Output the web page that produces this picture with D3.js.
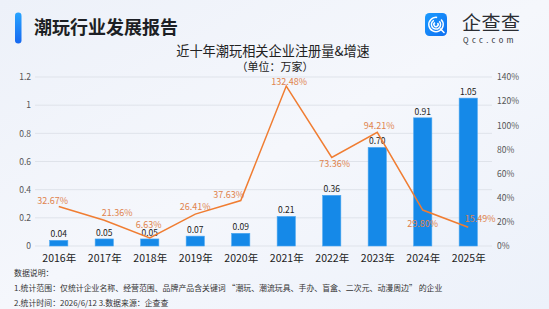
<!DOCTYPE html>
<html>
<head>
<meta charset="utf-8">
<script src="https://cdn.jsdelivr.net/npm/d3@7/dist/d3.min.js"></script>
<style>
  html, body { margin: 0; padding: 0; }
  body { width: 549px; height: 309px; overflow: hidden; }
  text { font-family: "Noto Sans CJK SC", "Noto Sans", sans-serif; }
</style>
</head>
<body>
<div class="chart"></div>
<script>
const years = ["2016年", "2017年", "2018年", "2019年", "2020年", "2021年", "2022年", "2023年", "2024年", "2025年"];
const registrations = [0.04, 0.05, 0.05, 0.07, 0.09, 0.21, 0.36, 0.70, 0.91, 1.05];
const growthRates = [32.67, 21.36, 6.63, 26.41, 37.63, 132.48, 73.36, 94.21, 29.80, 15.49];
const leftTicks = [0, 0.2, 0.4, 0.6, 0.8, 1, 1.2];
const rightTicks = [0, 20, 40, 60, 80, 100, 120, 140];
// label nudges for the growth labels (dx, dy relative to the point)
const rateLabelShift = [[-6, -3], [13, -4], [-1, -10], [0, -4], [-12, -3], [3, -1], [3, 10], [2, -3], [0, 17], [12, -5]];

const width = 549, height = 309;
const x0 = 36, x1 = 491, yTop = 77, yBottom = 246;

const svg = d3.select(".chart").append("svg")
    .attr("width", width)
    .attr("height", height);

const defs = svg.append("defs");
const bg = defs.append("linearGradient").attr("id", "bg")
    .attr("x1", "0").attr("y1", "0").attr("x2", "1").attr("y2", "1");
bg.append("stop").attr("offset", "0").attr("stop-color", "#edf1f9");
bg.append("stop").attr("offset", "0.5").attr("stop-color", "#f5f7fc");
bg.append("stop").attr("offset", "1").attr("stop-color", "#ecf1fa");

const accent = defs.append("linearGradient").attr("id", "accent")
    .attr("x1", "0").attr("y1", "0").attr("x2", "0").attr("y2", "1");
accent.append("stop").attr("offset", "0").attr("stop-color", "#28a4ff");
accent.append("stop").attr("offset", "1").attr("stop-color", "#1668f0");

const logoGrad = defs.append("linearGradient").attr("id", "logoGrad")
    .attr("x1", "0").attr("y1", "0").attr("x2", "1").attr("y2", "1");
logoGrad.append("stop").attr("offset", "0").attr("stop-color", "#1a9bff");
logoGrad.append("stop").attr("offset", "1").attr("stop-color", "#0f6ff0");

svg.append("rect").attr("width", width).attr("height", height).attr("fill", "url(#bg)");

// header
svg.append("rect").attr("x", 15).attr("y", 12.5).attr("width", 6.5).attr("height", 31)
    .attr("rx", 3.2).attr("fill", "url(#accent)");
svg.append("text").attr("x", 34).attr("y", 33.5)
    .attr("font-size", 18).attr("font-weight", "bold").attr("fill", "#1d1f24")
    .text("潮玩行业发展报告");

// logo
const logo = svg.append("g").attr("transform", "translate(425,13)");
logo.append("rect").attr("width", 22).attr("height", 23).attr("rx", 4.5).attr("fill", "url(#logoGrad)");
[7.2, 4.6, 2.1].forEach(function (r, i) {
    logo.append("path")
        .attr("transform", "translate(11,11.5)")
        .attr("d", d3.arc().innerRadius(r - 0.75).outerRadius(r + 0.75)
            .startAngle(Math.PI * 0.25).endAngle(Math.PI * (i === 0 ? 2.05 : 1.85))())
        .attr("fill", "#fff");
});
logo.append("line").attr("x1", 15.5).attr("y1", 16).attr("x2", 19).attr("y2", 19.5)
    .attr("stroke", "#fff").attr("stroke-width", 1.6).attr("stroke-linecap", "round");
svg.append("text").attr("x", 462).attr("y", 30)
    .attr("font-size", 19).attr("fill", "#2a2d33").attr("letter-spacing", 0.5)
    .text("企查查");
svg.append("text").attr("x", 463).attr("y", 42.5)
    .attr("font-size", 7.5).attr("fill", "#2a2d33").attr("letter-spacing", 3.4)
    .attr("font-family", "DejaVu Sans")
    .text("Qcc.com");

// chart title
svg.append("text").attr("x", 273).attr("y", 56).attr("text-anchor", "middle")
    .attr("font-size", 13.2).attr("fill", "#222")
    .text("近十年潮玩相关企业注册量&增速");
svg.append("text").attr("x", 275).attr("y", 71).attr("text-anchor", "middle")
    .attr("font-size", 11).attr("fill", "#222")
    .text("（单位：万家）");

// scales
const x = d3.scaleBand().domain(years).range([x0, x1]).paddingInner(0.6).paddingOuter(0.3);
const xMid = d3.scalePoint().domain(years).range([x0, x1]).padding(0.5);
const yLeft = d3.scaleLinear().domain([0, 1.2]).range([yBottom, yTop]);
const yRight = d3.scaleLinear().domain([0, 140]).range([yBottom, yTop]);

// grid
svg.append("g").selectAll("line").data(leftTicks).enter().append("line")
    .attr("x1", x0 - 1).attr("x2", x1 + 1)
    .attr("y1", d => yLeft(d)).attr("y2", d => yLeft(d))
    .attr("stroke", "#dfe3ea").attr("stroke-width", 1);

const leftAxis = svg.append("g").attr("transform", "translate(" + (x0 - 1) + ",0)")
    .call(d3.axisLeft(yLeft).tickValues(leftTicks).tickSize(0).tickPadding(4)
        .tickFormat(d => d3.format("")(+d.toFixed(1))));
leftAxis.select(".domain").remove();
leftAxis.selectAll("text").attr("font-size", 8.5).attr("fill", "#555");

const rightAxis = svg.append("g").attr("transform", "translate(" + (x1 + 1) + ",0)")
    .call(d3.axisRight(yRight).tickValues(rightTicks).tickSize(0).tickPadding(5)
        .tickFormat(d => d + "%"));
rightAxis.select(".domain").remove();
rightAxis.selectAll("text").attr("font-size", 8.5).attr("fill", "#555");

const bottomAxis = svg.append("g").attr("transform", "translate(0," + yBottom + ")")
    .call(d3.axisBottom(xMid).tickSize(0).tickPadding(9));
bottomAxis.select(".domain").remove();
bottomAxis.selectAll("text").attr("font-size", 10.5).attr("fill", "#222")
    .attr("font-family", "Noto Sans CJK SC");

// bars
const bars = svg.append("g").selectAll("g").data(registrations).enter().append("g");
bars.append("rect")
    .attr("x", (d, i) => x(years[i]))
    .attr("y", d => yLeft(d))
    .attr("width", x.bandwidth())
    .attr("height", d => yBottom - yLeft(d))
    .attr("fill", "#1589e8")
    .attr("stroke", "#4aa6f0").attr("stroke-width", 0.6);
bars.append("text")
    .attr("x", (d, i) => xMid(years[i]))
    .attr("y", d => yLeft(d) - 3)
    .attr("text-anchor", "middle")
    .attr("font-size", 8.5).attr("fill", "#222")
    .text(d => d.toFixed(2));

// growth line
const line = d3.line()
    .x((d, i) => xMid(years[i]))
    .y(d => yRight(d));
svg.append("path").datum(growthRates)
    .attr("d", line)
    .attr("fill", "none")
    .attr("stroke", "#f07d32")
    .attr("stroke-width", 1.5);

svg.append("g").selectAll("text").data(growthRates).enter().append("text")
    .attr("x", (d, i) => xMid(years[i]) + rateLabelShift[i][0])
    .attr("y", (d, i) => yRight(d) + rateLabelShift[i][1])
    .attr("text-anchor", "middle")
    .attr("font-size", 9).attr("fill", "#e0844e")
    .text(d => d.toFixed(2) + "%");

// notes
const notes = ["数据说明：",
    "1.统计范围：仅统计企业名称、经营范围、品牌产品含关键词 “潮玩、潮流玩具、手办、盲盒、二次元、动漫周边” 的企业",
    "2.统计时间：2026/6/12  3.数据来源：企查查"];
svg.append("g").selectAll("text").data(notes).enter().append("text")
    .attr("x", 14)
    .attr("y", (d, i) => 276 + i * 15.2)
    .attr("font-size", 7.9).attr("fill", "#333")
    .text(d => d);
</script>
</body>
</html>
